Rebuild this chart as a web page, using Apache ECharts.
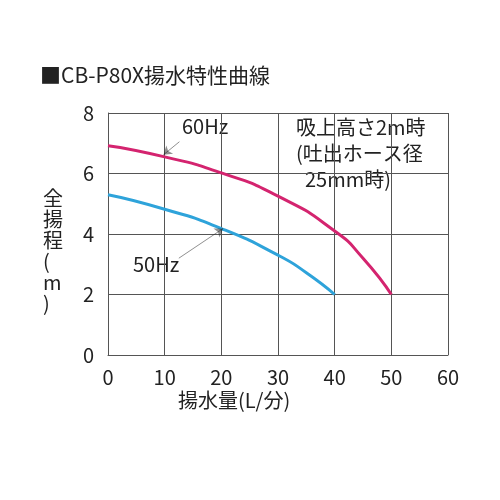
<!DOCTYPE html><html><head><meta charset="utf-8"><script src="https://cdn.jsdelivr.net/npm/echarts@6/dist/echarts.min.js"></script></head><body style="margin:0"><div id="c" style="width:500px;height:500px"></div><script>
const xTicks=[0,10,20,30,40,50,60];
const hz60=[[0,6.92],[10,6.55],[20,6.02],[30,5.25],[40,4.1],[45,3.2],[50,2.0]];
const hz50=[[0,5.3],[10,4.82],[20,4.18],[30,3.3],[35,2.72],[40,2.0]];
const F='"Noto Sans CJK JP"';
const c=echarts.init(document.getElementById('c'));
c.setOption({
 graphic:[
  {type:'text',left:40,top:65,style:{text:'■CB-P80X揚水特性曲線',font:'21px '+F,fill:'#222'}},
  {type:'text',left:43,top:188,style:{text:'全\n揚\n程\n(\nm\n)',font:'20px '+F,fill:'#222',lineHeight:21}},
  {type:'text',left:178,top:390,style:{text:'揚水量(L/分)',font:'20px '+F,fill:'#222'}},
  {type:'text',left:296,top:114,style:{text:'吸上高さ2m時\n(吐出ホース径\n  25mm時)',font:'20px '+F,fill:'#222',lineHeight:26,backgroundColor:'#fff'}},
  {type:'text',left:182,top:116,style:{text:'60Hz',font:'20px '+F,fill:'#222',backgroundColor:'#fff'}},
  {type:'text',left:133,top:254,style:{text:'50Hz',font:'20px '+F,fill:'#222',backgroundColor:'#fff'}}
 ],
 grid:{left:108,right:52,top:113,bottom:145},
 xAxis:{type:'value',min:0,max:60,interval:10,axisLine:{lineStyle:{color:'#555'}},axisTick:{show:false},splitLine:{lineStyle:{color:'#555'}},axisLabel:{fontSize:20,color:'#222',fontFamily:F,margin:12}},
 yAxis:{type:'value',min:0,max:8,interval:2,axisLine:{show:true,lineStyle:{color:'#555'}},axisTick:{show:false},splitLine:{lineStyle:{color:'#555'}},axisLabel:{fontSize:20,color:'#222',fontFamily:F,margin:14}},
 series:[
  {type:'line',data:hz60,smooth:0.6,symbol:'none',lineStyle:{color:'#d4246f',width:3},z:3},
  {type:'line',data:hz50,smooth:0.6,symbol:'none',lineStyle:{color:'#2ea3da',width:3},z:3},
  {type:'lines',coordinateSystem:'cartesian2d',symbol:['none','arrow'],symbolSize:8,lineStyle:{color:'#222',width:1},z:4,
   data:[{coords:[[12.6,7.05],[9.8,6.62]]},{coords:[[12.5,3.2],[20.3,4.18]]}]}
 ]
});
</script></body></html>
